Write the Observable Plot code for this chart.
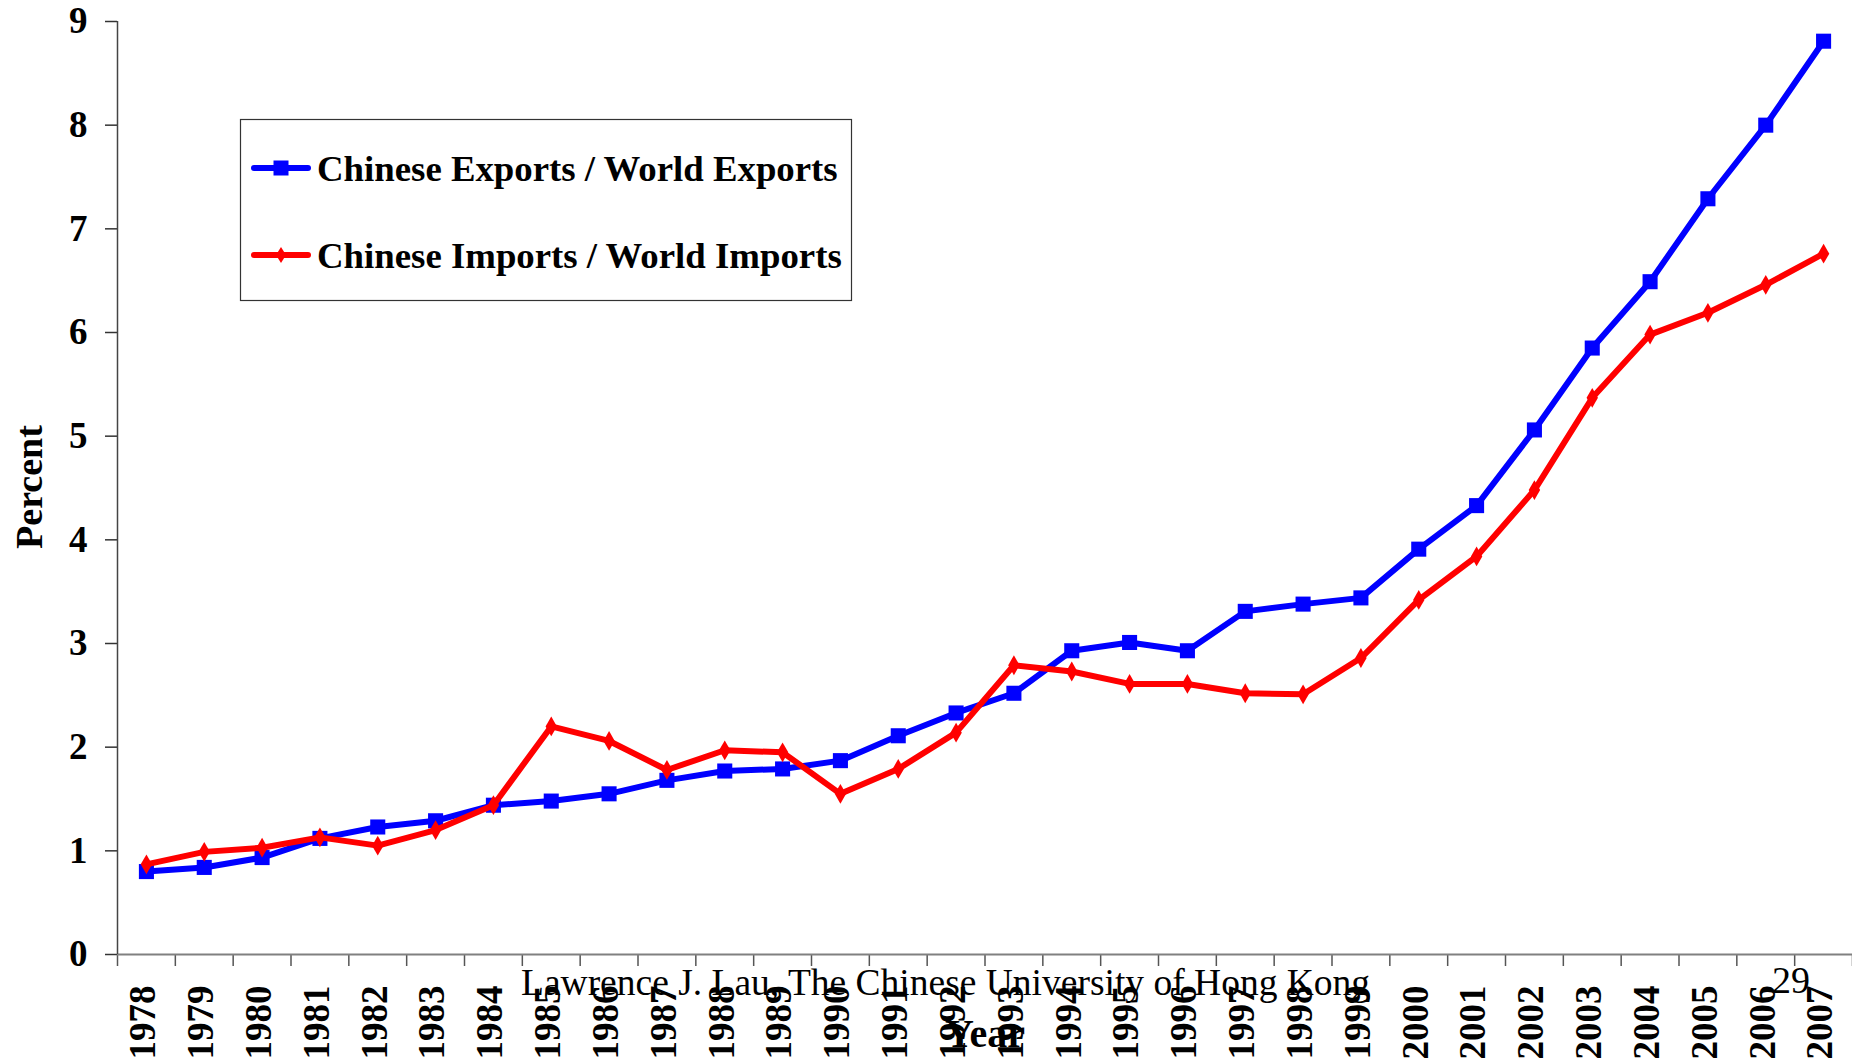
<!DOCTYPE html>
<html>
<head>
<meta charset="utf-8">
<script src="https://cdn.jsdelivr.net/npm/d3@7"></script>
<script src="https://cdn.jsdelivr.net/npm/@observablehq/plot@0.6"></script>
<style>
  html, body { margin: 0; padding: 0; background: #fff; }
  #wrap { position: relative; width: 1852px; height: 1064px; }
  #overlay { position: absolute; left: 0; top: 0; pointer-events: none; }
</style>
</head>
<body>
<div id="wrap"></div>
<script>
const years = [1978,1979,1980,1981,1982,1983,1984,1985,1986,1987,1988,1989,1990,1991,1992,1993,1994,1995,1996,1997,1998,1999,2000,2001,2002,2003,2004,2005,2006,2007];
const exportsShare = [0.80,0.84,0.935,1.12,1.23,1.29,1.44,1.48,1.55,1.68,1.77,1.79,1.87,2.11,2.33,2.52,2.93,3.01,2.93,3.31,3.38,3.44,3.91,4.33,5.06,5.85,6.49,7.29,8.00,8.81];
const importsShare = [0.87,0.99,1.03,1.13,1.05,1.20,1.44,2.20,2.06,1.78,1.97,1.95,1.55,1.79,2.14,2.79,2.73,2.61,2.61,2.52,2.51,2.86,3.42,3.84,4.48,5.37,5.98,6.19,6.46,6.76];
const yTicks = [0,1,2,3,4,5,6,7,8,9];
const seriesNames = ["Chinese Exports / World Exports", "Chinese Imports / World Imports"];
const seriesColors = ["#0000FF", "#FF0000"];
const yLabel = "Percent";
const xLabel = "Year";
const footerText = "Lawrence J. Lau, The Chinese University of Hong Kong";
const pageNumber = "29";

const exp = years.map((y, i) => ({year: y, value: exportsShare[i]}));
const imp = years.map((y, i) => ({year: y, value: importsShare[i]}));
const boundaries = years.map(y => y - 0.5).concat([years[years.length - 1] + 0.5]);

const FONT = "'Liberation Serif', 'Times New Roman', serif";

const chart = Plot.plot({
  width: 1852,
  height: 1064,
  marginLeft: 117,
  marginRight: 0,
  marginTop: 21,
  marginBottom: 110,
  style: {fontFamily: FONT, background: "white", overflow: "visible", color: "black"},
  x: {domain: [years[0] - 0.5, years[years.length - 1] + 0.5], axis: null},
  y: {domain: [0, 9], axis: null},
  marks: [
    Plot.axisY({ticks: yTicks, tickSize: 12, tickPadding: 18, fontSize: 37, fontWeight: "bold", stroke: "#333", strokeWidth: 1.5, label: null, tickFormat: d => String(d)}),
    Plot.axisX({ticks: boundaries, tickSize: 12, tickPadding: 0, stroke: "#555", strokeWidth: 1.5, label: null, tickFormat: () => ""}),
    Plot.axisX({ticks: years, tickSize: 0, tickPadding: 31, tickRotate: -90, fontSize: 37, fontWeight: "bold", dx: -3, label: null, tickFormat: d => String(d)}),
    Plot.ruleY([0], {stroke: "#808080", strokeWidth: 2}),
    Plot.ruleX([years[0] - 0.5], {stroke: "#444", strokeWidth: 1.5}),
    Plot.line(exp, {x: "year", y: "value", stroke: seriesColors[0], strokeWidth: 6}),
    Plot.dot(exp, {x: "year", y: "value", symbol: "square", r: 8.5, fill: seriesColors[0], stroke: "none"}),
    Plot.line(imp, {x: "year", y: "value", stroke: seriesColors[1], strokeWidth: 6}),
    Plot.dot(imp, {x: "year", y: "value", symbol: "diamond", r: 6, fill: seriesColors[1], stroke: "none"})
  ]
});

const wrap = document.getElementById("wrap");
wrap.appendChild(chart);

// Overlay: legend, axis titles, slide footer
const ov = d3.select(wrap).append("svg")
  .attr("id", "overlay")
  .attr("width", 1852).attr("height", 1064)
  .style("font-family", FONT);

const lg = ov.append("g");
lg.append("rect").attr("x", 240.5).attr("y", 119.5).attr("width", 611).attr("height", 181)
  .attr("fill", "white").attr("stroke", "#333").attr("stroke-width", 1.2);
const rowsY = [168, 255];
seriesNames.forEach((name, i) => {
  const cy = rowsY[i];
  lg.append("line").attr("x1", 254).attr("x2", 308).attr("y1", cy).attr("y2", cy)
    .attr("stroke", seriesColors[i]).attr("stroke-width", 6).attr("stroke-linecap", "round");
  if (i === 0) {
    lg.append("rect").attr("x", 281 - 7.5).attr("y", cy - 7.5).attr("width", 15).attr("height", 15).attr("fill", seriesColors[i]);
  } else {
    lg.append("path").attr("d", `M281,${cy - 8}L286,${cy}L281,${cy + 8}L276,${cy}Z`).attr("fill", seriesColors[i]);
  }
  lg.append("text").attr("x", 317).attr("y", cy).attr("dy", "0.34em")
    .attr("font-size", 36.8).attr("font-weight", "bold").text(name);
});

ov.append("text").attr("transform", "translate(42,487) rotate(-90)")
  .attr("text-anchor", "middle").attr("font-size", 38).attr("font-weight", "bold").text(yLabel);

ov.append("text").attr("x", 521).attr("y", 995).attr("font-size", 37.5).text(footerText);
ov.append("text").attr("x", 1772).attr("y", 993).attr("font-size", 38).text(pageNumber);
ov.append("text").attr("x", 985).attr("y", 1047).attr("text-anchor", "middle")
  .attr("font-size", 40).attr("font-weight", "bold").text(xLabel);
</script>
</body>
</html>
